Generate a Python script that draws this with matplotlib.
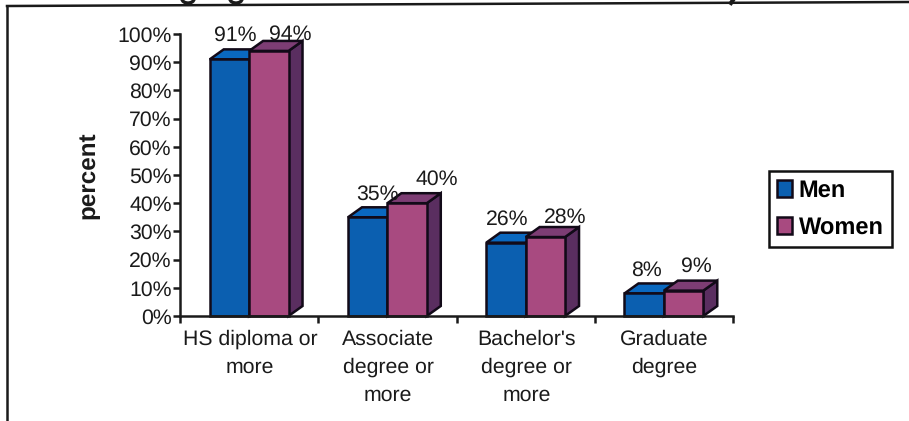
import matplotlib
matplotlib.use("Agg")
import matplotlib.pyplot as plt
from matplotlib.patches import Ellipse, Polygon, Rectangle
from matplotlib.lines import Line2D
from matplotlib.transforms import IdentityTransform

plt.rcParams["font.family"] = ["Liberation Sans", "DejaVu Sans"]
plt.rcParams["text.hinting"] = "none"

categories = ["HS diploma or\nmore", "Associate\ndegree or\nmore", "Bachelor's\ndegree or\nmore", "Graduate\ndegree"]
men = [91, 35, 26, 8]
women = [94, 40, 28, 9]
yticks = list(range(0, 101, 10))

W, H = 909, 421
FS = 15.3

men_col = ("#0b5fb0", "#0a68c0", "#07305a")
women_col = ("#a84a80", "#7d3d74", "#5a2e60")
ink = "#1a1a1a"
edge = "#120a18"

fig = plt.figure(figsize=(W / 100, H / 100), dpi=100)
fig.patch.set_facecolor("white")

# axes box in pixels of the original picture
left, right, top, bottom = 180, 733, 34, 316
ax = fig.add_axes([left / W, 1 - bottom / H, (right - left) / W, (bottom - top) / H])
ax.set_xlim(0, len(categories))
ax.set_ylim(0, 100)
ax.patch.set_alpha(0)

bar_w = 0.285
dx = 14 / 138.25
dy = 10 / 2.82


def bar3d(x, v, cols):
    front, top_c, side = cols
    ax.add_patch(Polygon([(x + bar_w, 0), (x + bar_w + dx, dy), (x + bar_w + dx, v + dy), (x + bar_w, v)],
                         fc=side, ec=edge, lw=1.8, clip_on=False, zorder=3))
    ax.add_patch(Polygon([(x, v), (x + dx, v + dy), (x + bar_w + dx, v + dy), (x + bar_w, v)],
                         fc=top_c, ec=edge, lw=1.8, clip_on=False, zorder=3))
    ax.add_patch(Rectangle((x, 0), bar_w, v, fc=front, ec=edge, lw=1.8, clip_on=False, zorder=3))


for i in range(len(categories)):
    bar3d(i + 0.215, men[i], men_col)
    bar3d(i + 0.215 + bar_w, women[i], women_col)

# value labels, nudged by hand like the original
men_off = [(0.398, 5), (0.427, 4.7), (0.365, 4.8), (0.376, 4.8)]
women_off = [(0.797, 2.5), (0.855, 5), (0.788, 3.5), (0.735, 5.3)]
for i in range(len(categories)):
    ax.text(i + men_off[i][0], men[i] + men_off[i][1], f"{men[i]}%", ha="center", va="bottom", fontsize=FS, color=ink, zorder=5)
    ax.text(i + women_off[i][0], women[i] + women_off[i][1], f"{women[i]}%", ha="center", va="bottom", fontsize=FS, color=ink, zorder=5)

ax.set_yticks(yticks)
ax.set_yticklabels([f"{t}%" for t in yticks], fontsize=FS, color=ink)
ax.set_xticks(range(len(categories) + 1))
ax.set_xticklabels([])
for i, c in enumerate(categories):
    ax.text(i + 0.505, -4.8, c, ha="center", va="top", fontsize=FS, color=ink, linespacing=1.57)
ax.tick_params(axis="both", length=5, width=1.8, color=ink, pad=1)
for s in ["top", "right"]:
    ax.spines[s].set_visible(False)
for s in ["left", "bottom"]:
    ax.spines[s].set_linewidth(1.8)
    ax.spines[s].set_color(ink)
    ax.spines[s].set_zorder(6)

fig.text(88 / W, 1 - 175 / H, "percent", rotation=90, ha="center", va="center", fontsize=17.5, fontweight="bold", color=ink)

# the title is cropped off, only ink from its descenders is left along the top edge
for px in [188, 236]:
    fig.add_artist(Ellipse((px, H + 1), 12, 8, fc="none", ec=ink, lw=2.4, transform=IdentityTransform()))
fig.add_artist(Line2D([733, 731], [H, H - 3], color=ink, lw=3, transform=IdentityTransform()))

# outer frame
fig.add_artist(Line2D([7 / W, 7 / W], [0, 1 - 6 / H], color=ink, lw=1.8))
fig.add_artist(Line2D([7 / W, 1], [1 - 6 / H, 1 - 2 / H], color=ink, lw=1.8))

handles = [Rectangle((0, 0), 1, 1, fc=men_col[0], ec=edge, lw=1.8),
           Rectangle((0, 0), 1, 1, fc=women_col[0], ec=edge, lw=1.8)]
leg = fig.legend(handles, ["Men", "Women"], loc="center", bbox_to_anchor=(830.5 / W, 1 - 209 / H),
                 prop={"size": 17, "weight": "bold"}, fancybox=False, framealpha=1, edgecolor="#111111",
                 handlelength=0.64, handleheight=0.7, handletextpad=0.27, labelspacing=0.63, borderpad=0.335)
leg.get_frame().set_linewidth(1.8)

fig.savefig("out.png", dpi=100)
